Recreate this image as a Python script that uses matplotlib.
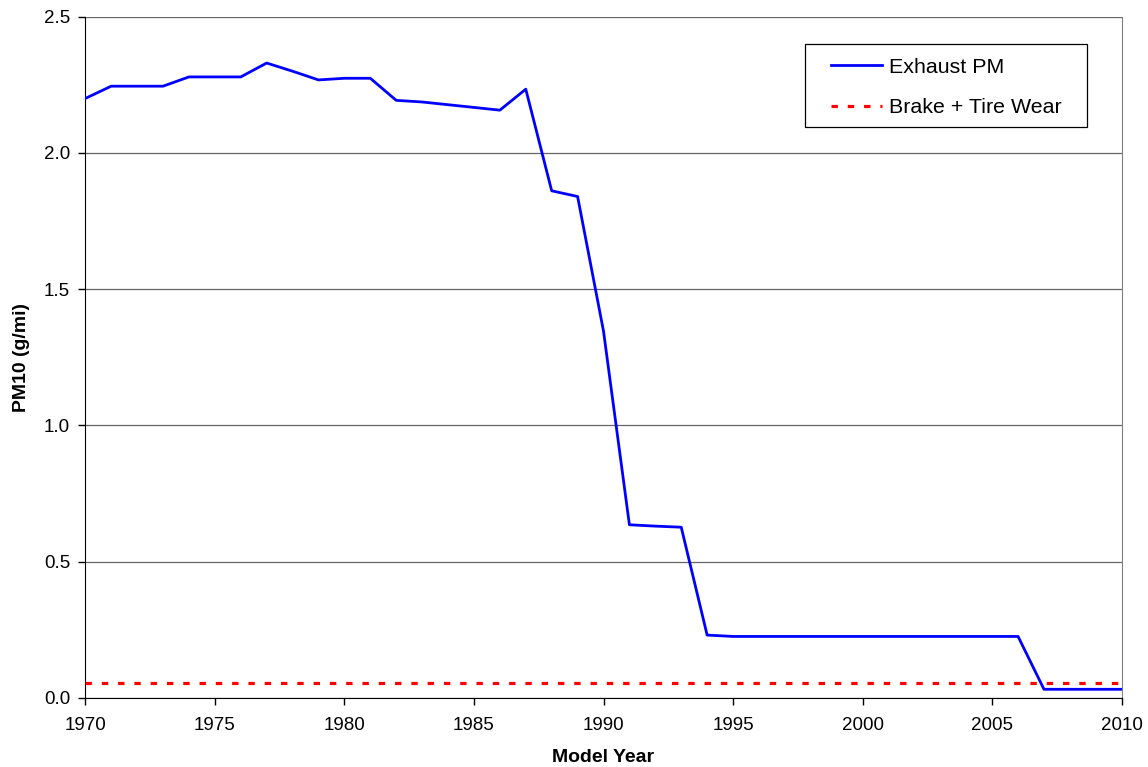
import matplotlib
matplotlib.use("Agg")
from matplotlib import pyplot as plt
from matplotlib.patches import Rectangle

plt.rcParams['font.family'] = ['Liberation Sans', 'DejaVu Sans']

# exhaust PM10 by model year
years = [1970, 1971, 1972, 1973, 1974, 1975, 1976, 1977, 1978, 1979,
         1980, 1981, 1982, 1983, 1984, 1985, 1986, 1987, 1988, 1989,
         1990, 1991, 1992, 1993, 1994, 1995, 1996, 1997, 1998, 1999,
         2000, 2001, 2002, 2003, 2004, 2005, 2006, 2007, 2008, 2009, 2010]
exhaust_pm = [2.20, 2.245, 2.245, 2.245, 2.279, 2.279, 2.279, 2.33, 2.30, 2.268,
              2.274, 2.274, 2.193, 2.187, 2.177, 2.167, 2.157, 2.234, 1.861, 1.840,
              1.346, 0.635, 0.630, 0.626, 0.230, 0.225, 0.225, 0.225, 0.225, 0.225,
              0.225, 0.225, 0.225, 0.225, 0.225, 0.225, 0.225, 0.031, 0.031, 0.031, 0.031]
brake_tire = 0.054

x_ticks = [1970, 1975, 1980, 1985, 1990, 1995, 2000, 2005, 2010]
y_ticks = [0.0, 0.5, 1.0, 1.5, 2.0, 2.5]

fig = plt.figure(figsize=(11.48, 7.67), dpi=100)
ax = fig.add_axes([0.0743, 0.0903, 0.9028, 0.8879])

ax.plot(years, exhaust_pm, color="#0000ff", lw=2.0, label="Exhaust PM", zorder=3)
ax.plot([years[0], years[-1]], [brake_tire, brake_tire], color="#ff0000", lw=2.3,
        linestyle=(0, (2.0, 3.1)), label="Brake + Tire Wear", zorder=3)

ax.set_xlim(1970, 2010)
ax.set_ylim(0, 2.5)
ax.set_xticks(x_ticks)
ax.set_yticks(y_ticks)
ax.set_yticklabels([f"{v:.1f}" for v in y_ticks])
ax.tick_params(labelsize=13.5, direction="out", length=5, width=1)
ax.tick_params(axis="x", pad=9)
ax.tick_params(axis="y", pad=6)

ax.grid(axis="y", color="#666666", lw=0.9, zorder=0)
ax.spines["top"].set_visible(False)
ax.spines["right"].set_color("#808080")
ax.spines["left"].set_color("black")
ax.spines["bottom"].set_color("black")

ax.set_xlabel("Model Year", fontsize=14, fontweight="bold", labelpad=11)
ax.set_ylabel("PM10 (g/mi)", fontsize=14, fontweight="bold", labelpad=10)

leg = ax.legend(loc="upper right", bbox_to_anchor=(0.952, 0.9556), borderaxespad=0,
                fontsize=15.4, frameon=True, fancybox=False,
                handlelength=2.4, borderpad=0.5, labelspacing=1.0, handletextpad=0.3)

# the original box has wider side padding than top/bottom, so draw it by hand
fig.canvas.draw()
bb = leg.get_frame().get_window_extent()
leg.get_frame().set_visible(False)
side = 15
x0, y0 = ax.transAxes.inverted().transform((bb.x0 - side, bb.y0 + 1))
x1, y1 = ax.transAxes.inverted().transform((bb.x1 + side, bb.y1 + 3))
ax.add_patch(Rectangle((x0, y0), x1 - x0, y1 - y0, transform=ax.transAxes,
                       facecolor="white", edgecolor="black", lw=0.9, zorder=4,
                       clip_on=False))

plt.savefig("out.png", dpi=100)
